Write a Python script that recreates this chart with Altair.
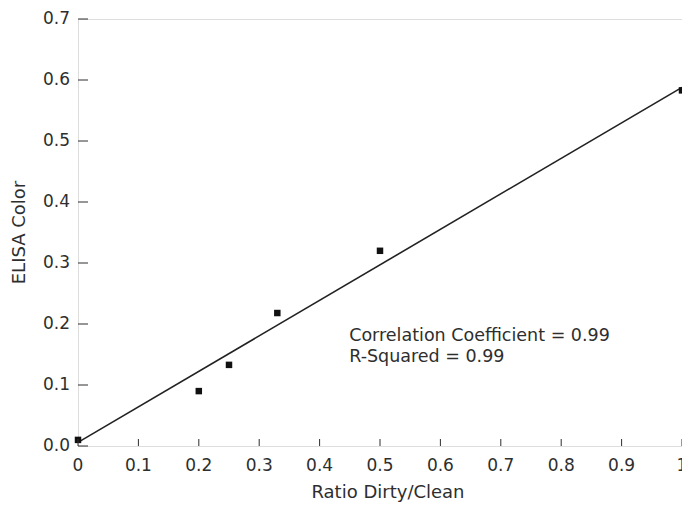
import altair as alt
import pandas as pd

# data
ratio = [0.0, 0.2, 0.25, 0.33, 0.5, 1.0]
elisa = [0.010, 0.090, 0.133, 0.218, 0.320, 0.583]
fit_x = [0.0, 1.0]
fit_y = [0.006, 0.588]
x_ticks = [0, 0.1, 0.2, 0.3, 0.4, 0.5, 0.6, 0.7, 0.8, 0.9, 1.0]
x_labels = ["0", "0.1", "0.2", "0.3", "0.4", "0.5", "0.6", "0.7", "0.8", "0.9", "1"]
y_ticks = [0, 0.1, 0.2, 0.3, 0.4, 0.5, 0.6, 0.7]
y_labels = ["0.0", "0.1", "0.2", "0.3", "0.4", "0.5", "0.6", "0.7"]
x_title = "Ratio Dirty/Clean"
y_title = "ELISA Color"
notes = ["Correlation Coefficient = 0.99", "R-Squared = 0.99"]
note_x = [0.449, 0.449]
note_y = [0.172, 0.137]

W, H = 604, 427
FONT = "DejaVu Sans"
INK = "#2e2e2e"

pts = pd.DataFrame({"x": ratio, "y": elisa})
fit = pd.DataFrame({"x": fit_x, "y": fit_y})
xt = pd.DataFrame({"v": x_ticks, "t": x_labels})
yt = pd.DataFrame({"v": y_ticks, "t": y_labels})
nt = pd.DataFrame({"t": notes, "x": note_x, "y": note_y})

xs = alt.Scale(domain=[0, 1], nice=False)
ys = alt.Scale(domain=[0, 0.7], nice=False)


def X(f):
    return alt.X(f, scale=xs, axis=None)


def Y(f):
    return alt.Y(f, scale=ys, axis=None)


points = alt.Chart(pts).mark_square(size=42, color="#111111", opacity=1).encode(
    x=X("x:Q"), y=Y("y:Q")
)
line = alt.Chart(fit).mark_line(color="#222222", strokeWidth=1.6).encode(
    x=X("x:Q"), y=Y("y:Q")
)
xtick = alt.Chart(xt).mark_rule(color=INK, strokeWidth=1).encode(
    x=X("v:Q"), y=alt.value(H), y2=alt.value(H - 7)
)
ytick = alt.Chart(yt).mark_rule(color=INK, strokeWidth=1).encode(
    y=Y("v:Q"), x=alt.value(0), x2=alt.value(10)
)
xlab = alt.Chart(xt).mark_text(align="center", baseline="middle", fontSize=17, font=FONT,
                               color=INK).encode(
    x=X("v:Q"), y=alt.value(H + 20), text="t:N"
)
ylab = alt.Chart(yt).mark_text(align="right", baseline="middle", fontSize=17, font=FONT,
                               color=INK, dx=-8).encode(
    y=Y("v:Q"), x=alt.value(0), text="t:N"
)
xtit = alt.Chart(pd.DataFrame({"t": [x_title]})).mark_text(
    align="center", baseline="alphabetic", fontSize=18, font=FONT, color=INK
).encode(x=alt.value(W / 2 + 8), y=alt.value(H + 52), text="t:N")
ytit = alt.Chart(pd.DataFrame({"t": [y_title]})).mark_text(
    align="center", baseline="middle", fontSize=18, font=FONT, color=INK, angle=270
).encode(x=alt.value(-58), y=alt.value(H / 2), text="t:N")
text = alt.Chart(nt).mark_text(align="left", baseline="alphabetic", fontSize=17.5, font=FONT,
                               color=INK).encode(
    x=X("x:Q"), y=Y("y:Q"), text="t:N"
)

chart = alt.layer(line, points, xtick, ytick, xlab, ylab, xtit, ytit, text).properties(
    width=W, height=H,
    autosize=alt.AutoSizeParams(type="none"),
    padding={"left": 70, "top": 11, "right": 0, "bottom": 57},
).configure_view(stroke=INK, strokeWidth=1.2).configure(background="white")

chart.save("out.html", embed_options={"renderer": "svg", "actions": False})
